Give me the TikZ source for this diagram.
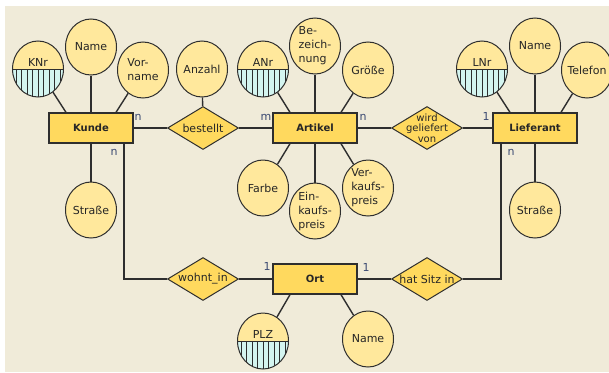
\documentclass[tikz,border=0pt]{standalone}
\usepackage{fontspec}
\setmainfont{DejaVu Sans}
\usetikzlibrary{calc,shapes.geometric,positioning}

\definecolor{paper}{HTML}{F0EBD9}
\definecolor{attrfill}{HTML}{FFE89C}
\definecolor{entfill}{HTML}{FFD95E}
\definecolor{keyfill}{HTML}{D4F5F0}
\definecolor{edge}{HTML}{2E2E2E}
\definecolor{card}{HTML}{3B4A72}

\begin{document}
\begin{tikzpicture}[x=1pt,y=-1pt,font=\fontsize{11}{14}\selectfont,text=black!85,
    link/.style={draw=edge,line width=1.4pt},
    attr/.style={ellipse,draw=edge,line width=1pt,fill=attrfill,inner sep=-4pt,
        minimum width=51pt,minimum height=56pt,align=left},
    keyattr/.style={attr,label={[yshift=7pt]center:#1},
        path picture={
            \fill[keyfill] (path picture bounding box.west) rectangle (path picture bounding box.south east);
            \foreach \dx in {-22,-16.5,...,22}
                \draw[edge,line width=1pt] ([xshift=\dx pt]path picture bounding box.center)
                    -- ([xshift=\dx pt]path picture bounding box.south);
            \draw[edge,line width=1pt] (path picture bounding box.west) -- (path picture bounding box.east);
        }},
    entity/.style={rectangle,draw=edge,line width=1.3pt,fill=entfill,
        minimum width=84pt,minimum height=30pt,font=\bfseries\fontsize{10}{12}\selectfont},
    rel/.style={diamond,draw=edge,line width=1pt,fill=entfill,inner sep=-6pt,aspect=1.65,
        minimum width=71pt,minimum height=43pt,align=center},
    card/.style={text=card,inner sep=0pt}]

    % page and paper
    \fill [white] (0,0) rectangle (609,372);
    \fill [paper] (5,6) rectangle (609,372);
    \useasboundingbox (0,0) rectangle (609,372);

    % entities
    \node [entity] (Kunde) at (91,128) {Kunde};
    \node [entity] (Artikel) at (315,128) {Artikel};
    \node [entity] (Lieferant) at (535,128) {Lieferant};
    \node [entity] (Ort) at (315,279) {Ort};

    % relationships
    \node [rel] (bestellt) at (203,128) {bestellt};
    \node [rel,font=\fontsize{10}{10.5}\selectfont] (geliefert) at (427,128) {wird\\geliefert\\von};
    \node [rel] (wohnt) at (203,279) {wohnt\_in};
    \node [rel] (sitz) at (427,279) {hat Sitz in};

    % attributes
    \node [keyattr=KNr] (KNr) at (38,69) {};
    \node [attr] (KName) at (91,47) {Name};
    \node [attr] (Vorname) at (143,70) {Vor-\\name};
    \node [attr] (Anzahl) at (202,69) {Anzahl};
    \node [keyattr=ANr] (ANr) at (263,69) {};
    \node [attr] (Bez) at (315,46) {Be-\\zeich-\\nung};
    \node [attr] (Groesse) at (368,70) {Größe};
    \node [keyattr=LNr] (LNr) at (482,69) {};
    \node [attr] (LName) at (535,46) {Name};
    \node [attr] (Telefon) at (587,70) {Telefon};
    \node [attr] (KStrasse) at (91,210) {Straße};
    \node [attr] (Farbe) at (263,188) {Farbe};
    \node [attr] (EK) at (315,211) {Ein-\\kaufs-\\preis};
    \node [attr] (VK) at (368,188) {Ver-\\kaufs-\\preis};
    \node [attr] (LStrasse) at (535,210) {Straße};
    \node [keyattr=PLZ] (PLZ) at (263,341) {};
    \node [attr] (OName) at (368,339) {Name};

    % attribute links
    \draw [link] (KNr) -- ([xshift=-25pt]Kunde.north);
    \draw [link] (KName) -- (Kunde);
    \draw [link] (Vorname) -- ([xshift=25pt]Kunde.north);
    \draw [link] (KStrasse) -- (Kunde);
    \draw [link] (Anzahl) -- (bestellt);
    \draw [link] (ANr) -- ([xshift=-25pt]Artikel.north);
    \draw [link] (Bez) -- (Artikel);
    \draw [link] (Groesse) -- ([xshift=26pt]Artikel.north);
    \draw [link] (Farbe) -- ([xshift=-25pt]Artikel.south);
    \draw [link] (EK) -- (Artikel);
    \draw [link] (VK) -- ([xshift=26pt]Artikel.south);
    \draw [link] (LNr) -- ([xshift=-25pt]Lieferant.north);
    \draw [link] (LName) -- (Lieferant);
    \draw [link] (Telefon) -- ([xshift=26pt]Lieferant.north);
    \draw [link] (LStrasse) -- (Lieferant);
    \draw [link] (PLZ) -- ([xshift=-25pt]Ort.south);
    \draw [link] (OName) -- ([xshift=26pt]Ort.south);

    % relationship links
    \draw [link] (Kunde) -- (bestellt) -- (Artikel) -- (geliefert) -- (Lieferant);
    \draw [link] ([xshift=33pt]Kunde.south) |- (wohnt);
    \draw [link] (wohnt) -- (Ort) -- (sitz);
    \draw [link] (sitz) -| ([xshift=-34pt]Lieferant.south);

    % cardinalities
    \node [card] (cKb) at (138,117) {n};
    \node [card] (cAb) at (266,117) {m};
    \node [card] (cAg) at (363,117) {n};
    \node [card] (cLg) at (486,116) {1};
    \node [card] (cKw) at (114,152) {n};
    \node [card] (cOw) at (267,266) {1};
    \node [card] (cOs) at (366,267) {1};
    \node [card] (cLs) at (511,152) {n};
\end{tikzpicture}
\end{document}
